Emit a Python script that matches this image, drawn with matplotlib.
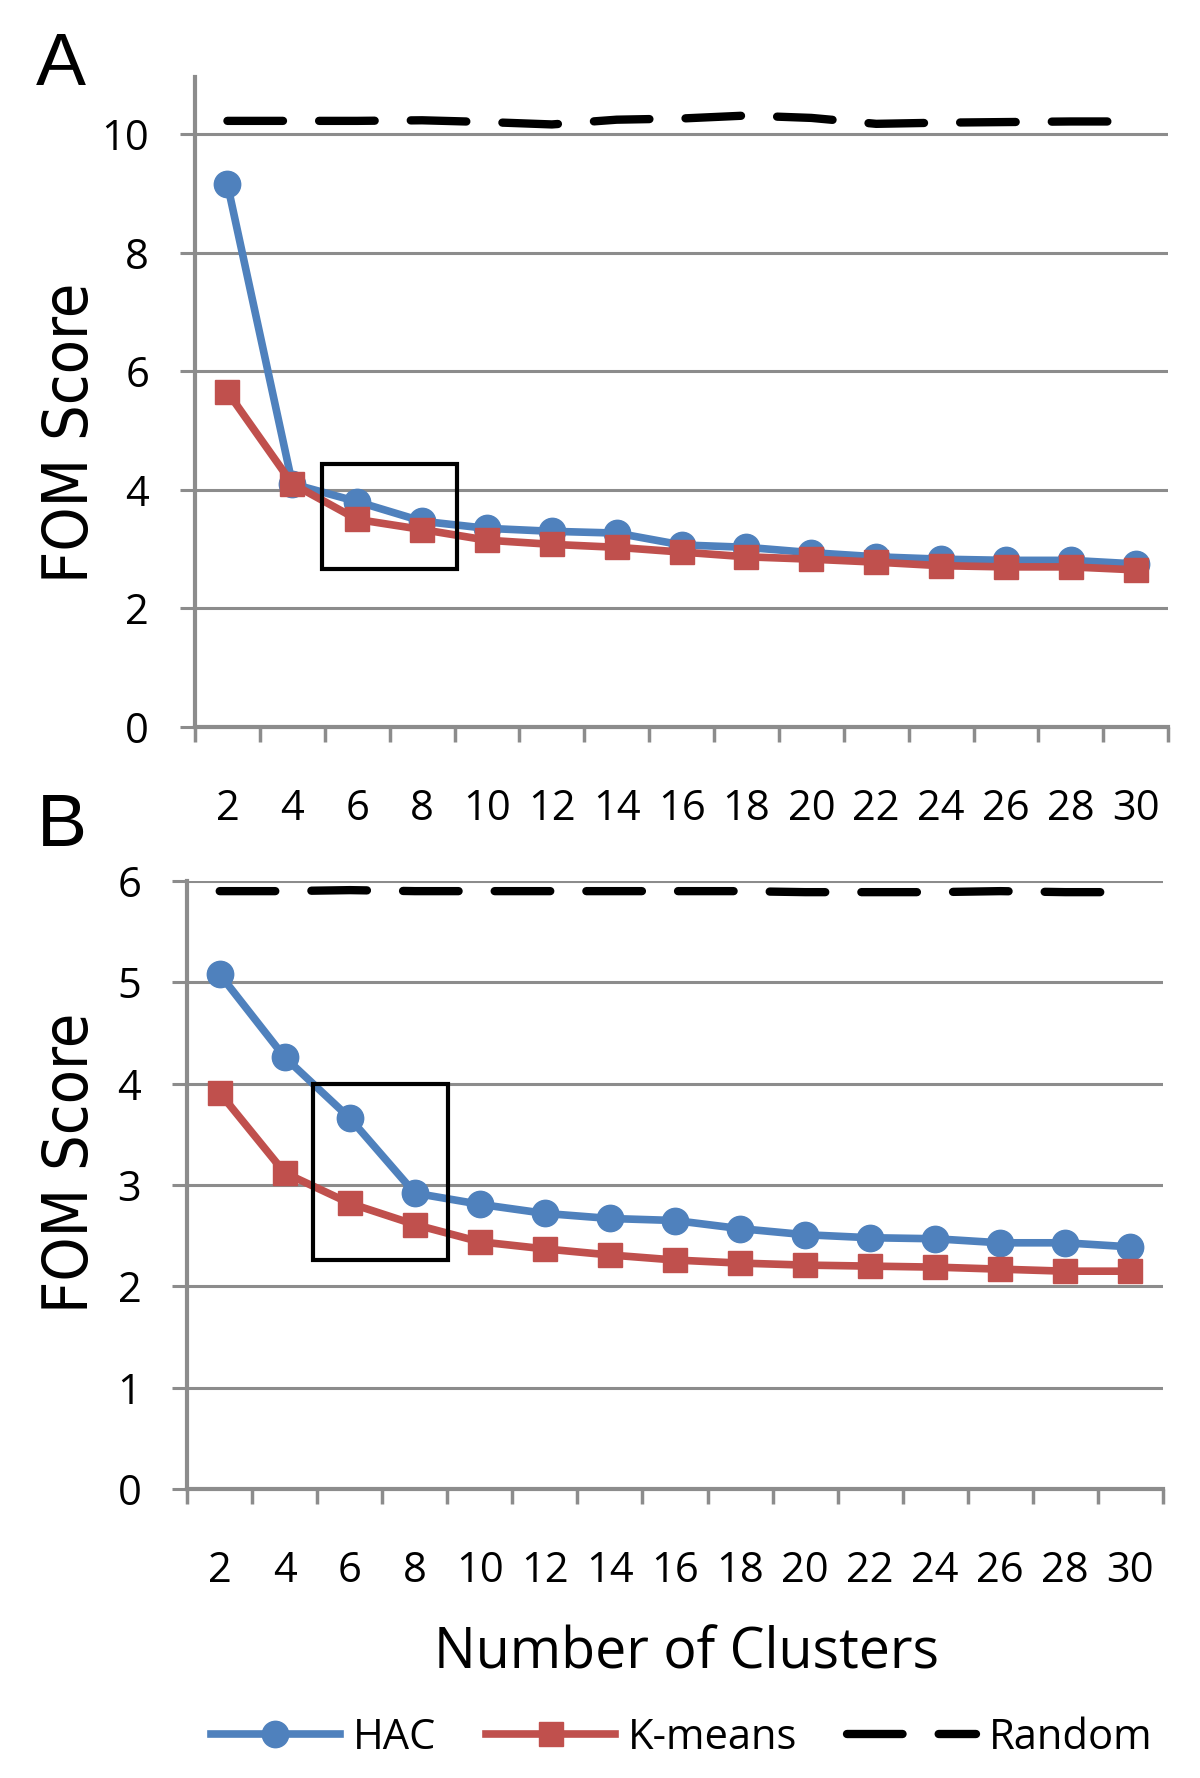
import numpy as np
import matplotlib
matplotlib.use("Agg")
import matplotlib.pyplot as plt
from matplotlib.patches import Rectangle
from matplotlib.ticker import FixedLocator, NullFormatter

# cluster counts (categories)
clusters = [2, 4, 6, 8, 10, 12, 14, 16, 18, 20, 22, 24, 26, 28, 30]

# panel A
hac_a = [9.15, 4.10, 3.80, 3.47, 3.35, 3.30, 3.27, 3.07, 3.03, 2.94, 2.87, 2.83, 2.81, 2.81, 2.75]
kmeans_a = [5.65, 4.10, 3.50, 3.33, 3.15, 3.08, 3.03, 2.95, 2.87, 2.83, 2.78, 2.72, 2.70, 2.70, 2.65]
random_a = [10.22, 10.22, 10.22, 10.23, 10.20, 10.16, 10.24, 10.26, 10.31, 10.27, 10.17, 10.19, 10.20, 10.21, 10.21]

# panel B
hac_b = [5.08, 4.26, 3.66, 2.92, 2.81, 2.72, 2.67, 2.65, 2.57, 2.51, 2.48, 2.47, 2.43, 2.43, 2.39]
kmeans_b = [3.91, 3.12, 2.82, 2.61, 2.44, 2.37, 2.31, 2.26, 2.23, 2.21, 2.20, 2.19, 2.17, 2.15, 2.15]
random_b = [5.90, 5.90, 5.91, 5.90, 5.90, 5.90, 5.90, 5.90, 5.90, 5.89, 5.89, 5.89, 5.90, 5.89, 5.89]

# highlight boxes (x0, x1, y0, y1)
box_a = (4.92, 9.08, 2.66, 4.43)
box_b = (4.88, 9.02, 2.26, 4.0)

BLUE = "#4F81BD"
RED = "#C0504D"
GRID = "#8C8C8C"

plt.rcParams["font.family"] = ["Open Sans", "DejaVu Sans"]
plt.rcParams["lines.scale_dashes"] = False

fig = plt.figure(figsize=(12, 17.78), dpi=100)
ax_a = fig.add_axes([0.1625, 0.5911, 0.811, 0.3656])
ax_b = fig.add_axes([0.156, 0.1625, 0.813, 0.342])


def draw_panel(ax, hac, km, rnd, ylim, yticks, box, ylab_x, ylab_y):
    ax.set_xlim(1, 31)
    ax.set_ylim(*ylim)
    ax.set_yticks(yticks)
    ax.set_yticklabels([str(t) for t in yticks])
    for t in yticks[1:]:
        ax.axhline(t, color=GRID, lw=2.2, zorder=1)

    ax.plot(clusters, rnd, color="black", lw=6, dashes=(40, 26),
            dash_capstyle="round", solid_capstyle="round", zorder=3, label="Random")
    ax.plot(clusters, hac, color=BLUE, lw=5.5, marker="o", ms=19,
            zorder=4, label="HAC")
    ax.plot(clusters, km, color=RED, lw=5.5, marker="s", ms=17,
            zorder=5, label="K-means")

    x0, x1, y0, y1 = box
    ax.add_patch(Rectangle((x0, y0), x1 - x0, y1 - y0, fill=False,
                           ec="black", lw=3, zorder=6))

    for s in ["top", "right"]:
        ax.spines[s].set_visible(False)
    for s in ["left", "bottom"]:
        ax.spines[s].set_color(GRID)
        ax.spines[s].set_linewidth(3)

    # category axis: ticks between categories, labels on categories
    ax.xaxis.set_major_locator(FixedLocator(np.arange(1, 32, 2)))
    ax.xaxis.set_major_formatter(NullFormatter())
    ax.xaxis.set_minor_locator(FixedLocator(clusters))
    ax.set_xticklabels([str(c) for c in clusters], minor=True)
    ax.tick_params(axis="x", which="major", direction="out", length=11,
                   width=2.5, color=GRID)
    ax.tick_params(axis="x", which="minor", length=0, pad=44, labelsize=30)
    ax.tick_params(axis="y", direction="out", length=11, width=2.2,
                   color=GRID, pad=22, labelsize=30)

    ax.set_ylabel("FOM Score", fontsize=45, family="DejaVu Sans",
                  fontstretch="condensed")
    ax.yaxis.set_label_coords(ylab_x, ylab_y)


draw_panel(ax_a, hac_a, kmeans_a, random_a, (0, 10.96), [0, 2, 4, 6, 8, 10], box_a, -0.097, 0.452)
draw_panel(ax_b, hac_b, kmeans_b, random_b, (0, 6), [0, 1, 2, 3, 4, 5, 6], box_b, -0.088, 0.536)

fig.text(0.051, 0.963, "A", fontsize=54, family=["Liberation Sans", "DejaVu Sans"],
         ha="center", va="center")
fig.text(0.052, 0.535, "B", fontsize=54, family=["Liberation Sans", "DejaVu Sans"],
         ha="center", va="center")

fig.text(0.572, 0.070, "Number of Clusters", fontsize=40, ha="center", va="center")

handles, labels = ax_b.get_legend_handles_labels()
order = [1, 2, 0]
fig.legend([handles[i] for i in order], [labels[i] for i in order],
           loc="center", bbox_to_anchor=(0.568, 0.0225), ncol=3, frameon=False,
           fontsize=30, handlelength=3.1, handletextpad=0.3, columnspacing=1.2)

fig.savefig("out.png", dpi=100)
